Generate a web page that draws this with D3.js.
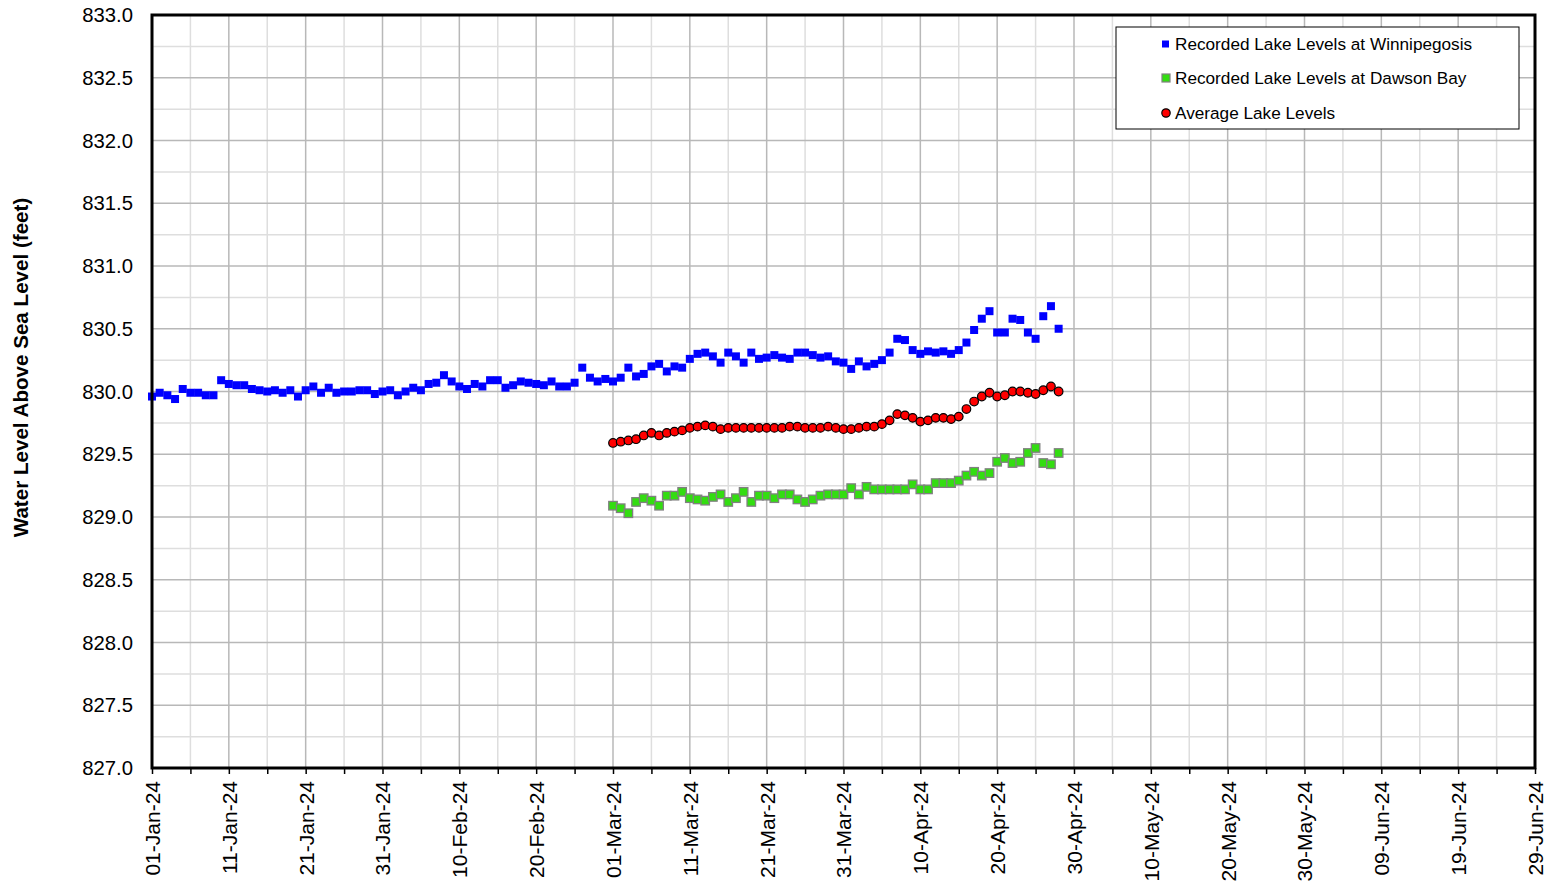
<!DOCTYPE html>
<html>
<head>
<meta charset="utf-8">
<script src="https://cdn.jsdelivr.net/npm/d3@7"></script>
<style>
  html, body { margin: 0; padding: 0; background: #fff; }
  svg { display: block; font-family: "Liberation Sans", Arial, sans-serif; }
</style>
</head>
<body>
<svg id="chart" width="1548" height="882"></svg>
<script>
// Daily lake level readings (feet above sea level), 2024
const startDate = new Date(Date.UTC(2024, 0, 1));
const endDate = new Date(Date.UTC(2024, 5, 29));

// Winnipegosis readings from 01-Jan-24
const winnipegosis = [
  829.96, 829.99, 829.97, 829.94, 830.02, 829.99, 829.99, 829.97, 829.97, 830.09,
  830.06, 830.05, 830.05, 830.02, 830.01, 830.00, 830.01, 829.99, 830.01, 829.96,
  830.01, 830.04, 829.99, 830.03, 829.99, 830.00, 830.00, 830.01, 830.01, 829.98,
  830.00, 830.01, 829.97, 830.00, 830.03, 830.01, 830.06, 830.07, 830.13, 830.08,
  830.04, 830.02, 830.06, 830.04, 830.09, 830.09, 830.03, 830.05, 830.08, 830.07,
  830.06, 830.05, 830.08, 830.04, 830.04, 830.07, 830.19, 830.11, 830.08, 830.10,
  830.08, 830.11, 830.19, 830.12, 830.14, 830.20, 830.22, 830.16, 830.20, 830.19,
  830.26, 830.30, 830.31, 830.28, 830.23, 830.31, 830.28, 830.23, 830.31, 830.26,
  830.27, 830.29, 830.27, 830.26, 830.31, 830.31, 830.29, 830.27, 830.28, 830.24,
  830.23, 830.18, 830.24, 830.20, 830.22, 830.25, 830.31, 830.42, 830.41, 830.33,
  830.30, 830.32, 830.31, 830.32, 830.30, 830.33, 830.39, 830.49, 830.58, 830.64,
  830.47, 830.47, 830.58, 830.57, 830.47, 830.42, 830.60, 830.68, 830.50
];

// Dawson Bay readings from 01-Mar-24
const dawsonStart = new Date(Date.UTC(2024, 2, 1));
const dawsonBay = [
  829.09, 829.07, 829.03, 829.12, 829.15, 829.13, 829.09, 829.17, 829.17, 829.20,
  829.15, 829.14, 829.13, 829.16, 829.18, 829.12, 829.15, 829.20, 829.12, 829.17,
  829.17, 829.15, 829.18, 829.18, 829.14, 829.12, 829.14, 829.17, 829.18, 829.18,
  829.18, 829.23, 829.18, 829.24, 829.22, 829.22, 829.22, 829.22, 829.22, 829.26,
  829.22, 829.22, 829.27, 829.27, 829.27, 829.29, 829.33, 829.36, 829.33, 829.35,
  829.44, 829.47, 829.43, 829.44, 829.51, 829.55, 829.43, 829.42, 829.51
];

// Average of the two stations from 01-Mar-24
const averageLevels = [
  829.59, 829.60, 829.61, 829.62, 829.65, 829.67, 829.65, 829.67, 829.68, 829.69,
  829.71, 829.72, 829.73, 829.72, 829.70, 829.71, 829.71, 829.71, 829.71, 829.71,
  829.71, 829.71, 829.71, 829.72, 829.72, 829.71, 829.71, 829.71, 829.72, 829.71,
  829.70, 829.70, 829.71, 829.72, 829.72, 829.74, 829.77, 829.82, 829.81, 829.79,
  829.76, 829.77, 829.79, 829.79, 829.78, 829.80, 829.86, 829.92, 829.96, 829.99,
  829.96, 829.97, 830.00, 830.00, 829.99, 829.98, 830.01, 830.04, 830.00
];

const yTicks = [827.0, 827.5, 828.0, 828.5, 829.0, 829.5, 830.0, 830.5, 831.0, 831.5, 832.0, 832.5, 833.0];
const legendLabels = [
  "Recorded Lake Levels at Winnipegosis",
  "Recorded Lake Levels at Dawson Bay",
  "Average Lake Levels"
];
const yTitle = "Water Level Above Sea Level (feet)";

const toSeries = (start, values) =>
  values.map((v, i) => ({ date: d3.utcDay.offset(start, i), value: v }));

const svg = d3.select("#chart");
const plotLeft = 152, plotRight = 1535, plotTop = 15, plotBottom = 768;

const x = d3.scaleUtc().domain([startDate, endDate]).range([plotLeft, plotRight]);
const y = d3.scaleLinear().domain([827, 833]).range([plotBottom, plotTop]);

const majorDays = d3.utcDay.range(startDate, d3.utcDay.offset(endDate, 1), 10);
const allDays5 = d3.utcDay.range(startDate, d3.utcDay.offset(endDate, 1), 5);
const minorDays = allDays5.filter((d, i) => i % 2 === 1);
const minorY = d3.range(827.25, 833, 0.5);

// Grid
const grid = svg.append("g");
grid.selectAll(".vminor").data(minorDays).join("line")
  .attr("x1", d => x(d)).attr("x2", d => x(d))
  .attr("y1", plotTop).attr("y2", plotBottom)
  .attr("stroke", "#dedede").attr("stroke-width", 1.5);
grid.selectAll(".hminor").data(minorY).join("line")
  .attr("x1", plotLeft).attr("x2", plotRight)
  .attr("y1", d => y(d)).attr("y2", d => y(d))
  .attr("stroke", "#dedede").attr("stroke-width", 1.5);
grid.selectAll(".vmajor").data(majorDays).join("line")
  .attr("x1", d => x(d)).attr("x2", d => x(d))
  .attr("y1", plotTop).attr("y2", plotBottom)
  .attr("stroke", "#b8b8b8").attr("stroke-width", 1.5);
grid.selectAll(".hmajor").data(yTicks).join("line")
  .attr("x1", plotLeft).attr("x2", plotRight)
  .attr("y1", d => y(d)).attr("y2", d => y(d))
  .attr("stroke", "#b8b8b8").attr("stroke-width", 1.5);

// X axis
const xAxis = d3.axisBottom(x)
  .tickValues(allDays5)
  .tickSize(6)
  .tickFormat((d, i) => (i % 2 === 0 ? d3.utcFormat("%d-%b-%y")(d) : ""));
const gx = svg.append("g").attr("transform", `translate(0,${plotBottom})`).call(xAxis);
gx.select(".domain").remove();
gx.selectAll(".tick line").attr("stroke", "#000").attr("stroke-width", 1.5);
gx.selectAll(".tick text")
  .attr("font-size", 21)
  .attr("fill", "#000")
  .attr("font-family", "Liberation Sans, Arial, sans-serif")
  .attr("transform", "rotate(-90)")
  .attr("text-anchor", "end")
  .attr("dy", "0.35em")
  .attr("x", -13)
  .attr("y", 0);

// Y axis
const yAxis = d3.axisLeft(y).tickValues(yTicks).tickSize(0).tickPadding(19).tickFormat(d3.format(".1f"));
const gy = svg.append("g").attr("transform", `translate(${plotLeft},0)`).call(yAxis);
gy.select(".domain").remove();
gy.selectAll(".tick text")
  .attr("font-size", 20.3)
  .attr("fill", "#000")
  .attr("font-family", "Liberation Sans, Arial, sans-serif");

// Y axis title
svg.append("text")
  .attr("transform", `translate(28,${(plotTop + plotBottom) / 2 - 24}) rotate(-90)`)
  .attr("text-anchor", "middle")
  .attr("font-size", 20.6)
  .attr("font-weight", "bold")
  .text(yTitle);

// Series
const blue = toSeries(startDate, winnipegosis);
const green = toSeries(dawsonStart, dawsonBay);
const red = toSeries(dawsonStart, averageLevels);

svg.append("g").selectAll("rect").data(blue).join("rect")
  .attr("x", d => x(d.date) - 4).attr("y", d => y(d.value) - 4)
  .attr("width", 8).attr("height", 8)
  .attr("fill", "#0000ff");

svg.append("g").selectAll("rect").data(green).join("rect")
  .attr("x", d => x(d.date) - 4.25).attr("y", d => y(d.value) - 4.25)
  .attr("width", 8.5).attr("height", 8.5)
  .attr("fill", "#33dd11").attr("stroke", "#808080").attr("stroke-width", 1.3);

svg.append("g").selectAll("circle").data(red).join("circle")
  .attr("cx", d => x(d.date)).attr("cy", d => y(d.value))
  .attr("r", 4.3)
  .attr("fill", "#ff0000").attr("stroke", "#000").attr("stroke-width", 1.2);

// Plot frame
svg.append("rect")
  .attr("x", plotLeft).attr("y", plotTop)
  .attr("width", plotRight - plotLeft).attr("height", plotBottom - plotTop)
  .attr("fill", "none").attr("stroke", "#000").attr("stroke-width", 3);

// Legend
const lg = svg.append("g").attr("transform", "translate(1116,27)");
lg.append("rect").attr("width", 403).attr("height", 102)
  .attr("fill", "#fff").attr("stroke", "#000").attr("stroke-width", 1);
const rows = [17, 51, 86];
lg.append("rect").attr("x", 46).attr("y", rows[0] - 3.5).attr("width", 7).attr("height", 7).attr("fill", "#0000ff");
lg.append("rect").attr("x", 46).attr("y", rows[1] - 4).attr("width", 8).attr("height", 8)
  .attr("fill", "#33dd11").attr("stroke", "#808080").attr("stroke-width", 1.2);
lg.append("circle").attr("cx", 50).attr("cy", rows[2]).attr("r", 4.2)
  .attr("fill", "#ff0000").attr("stroke", "#000").attr("stroke-width", 1.2);
lg.selectAll("text.lbl").data(legendLabels).join("text")
  .attr("x", 59).attr("y", (d, i) => rows[i]).attr("dy", "0.35em")
  .attr("font-size", 17.2).attr("fill", "#000")
  .text(d => d);
</script>
</body>
</html>
